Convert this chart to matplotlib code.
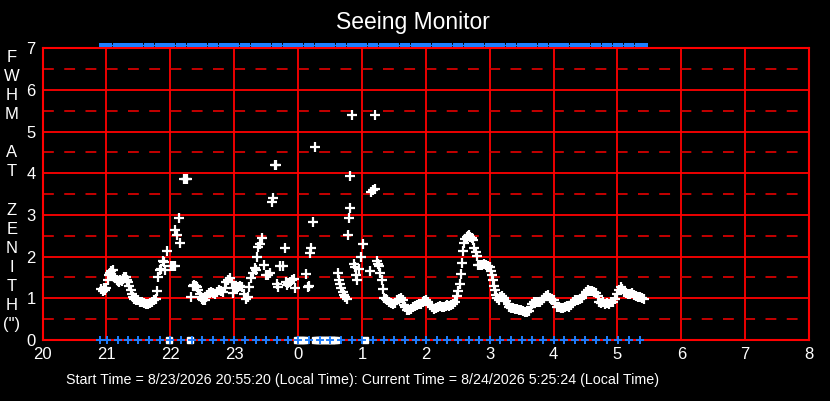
import matplotlib
matplotlib.use("Agg")
import matplotlib.pyplot as plt
import numpy as np

plt.rcParams['font.family'] = ['Liberation Sans', 'DejaVu Sans']
plt.rcParams['lines.scale_dashes'] = False

# ---- data (hours; after midnight expressed as 24+) ----
seeing_times = [
    20.92, 20.94, 20.96, 20.98, 21.00, 21.02, 21.04, 21.06, 21.08, 21.10,
    21.12, 21.14, 21.16, 21.18, 21.20, 21.22, 21.24, 21.26, 21.28, 21.30,
    21.32, 21.34, 21.36, 21.38, 21.40, 21.42, 21.44, 21.47, 21.50, 21.53,
    21.56, 21.59, 21.62, 21.65, 21.68, 21.71, 21.74, 21.77, 21.79, 21.81,
    21.84, 21.86, 21.88, 21.90, 21.92, 21.95, 22.01, 22.04, 22.07, 22.08,
    22.10, 22.13, 22.16, 22.21, 22.24, 22.26, 22.33, 22.35, 22.37, 22.40,
    22.42, 22.44, 22.46, 22.48, 22.50, 22.52, 22.54, 22.56, 22.58, 22.61,
    22.64, 22.67, 22.70, 22.73, 22.76, 22.79, 22.82, 22.85, 22.88, 22.91,
    22.94, 22.96, 22.98, 23.00, 23.03, 23.06, 23.09, 23.12, 23.15, 23.19,
    23.21, 23.24, 23.27, 23.30, 23.32, 23.34, 23.36, 23.38, 23.40, 23.43,
    23.46, 23.50, 23.53, 23.56, 23.59, 23.61, 23.64, 23.66, 23.67, 23.69,
    23.72, 23.77, 23.79, 23.81, 23.83, 23.85, 23.88, 23.91, 23.94, 23.96,
    24.13, 24.16, 24.18, 24.19, 24.21, 24.23, 24.27, 24.62, 24.64, 24.66,
    24.68, 24.70, 24.72, 24.74, 24.76, 24.78, 24.80, 24.81, 24.82, 24.85,
    24.87, 24.89, 24.91, 24.93, 24.96, 24.99, 25.02, 25.12, 25.15, 25.17,
    25.20, 25.21, 25.23, 25.25, 25.27, 25.29, 25.31, 25.33, 25.35, 25.37,
    25.40, 25.43, 25.46, 25.49, 25.52, 25.55, 25.58, 25.61, 25.64, 25.66,
    25.68, 25.71, 25.74, 25.77, 25.80, 25.83, 25.86, 25.89, 25.92, 25.95,
    25.98, 26.01, 26.04, 26.07, 26.10, 26.13, 26.16, 26.19, 26.22, 26.25,
    26.28, 26.31, 26.34, 26.37, 26.40, 26.43, 26.46, 26.49, 26.51, 26.53,
    26.55, 26.57, 26.58, 26.60, 26.62, 26.64, 26.66, 26.68, 26.70, 26.72,
    26.74, 26.76, 26.78, 26.80, 26.82, 26.85, 26.88, 26.91, 26.94, 26.97,
    27.00, 27.02, 27.04, 27.06, 27.07, 27.08, 27.10, 27.12, 27.14, 27.17,
    27.20, 27.23, 27.26, 27.28, 27.31, 27.34, 27.37, 27.40, 27.43, 27.46,
    27.49, 27.52, 27.55, 27.58, 27.61, 27.64, 27.67, 27.70, 27.73, 27.76,
    27.79, 27.82, 27.85, 27.88, 27.91, 27.94, 27.97, 28.00, 28.03, 28.06,
    28.09, 28.12, 28.15, 28.18, 28.21, 28.24, 28.27, 28.30, 28.33, 28.36,
    28.39, 28.42, 28.45, 28.48, 28.51, 28.54, 28.57, 28.60, 28.63, 28.66,
    28.69, 28.72, 28.75, 28.78, 28.81, 28.84, 28.87, 28.90, 28.93, 28.96,
    28.99, 29.02, 29.05, 29.08, 29.11, 29.14, 29.17, 29.20, 29.23, 29.26,
    29.29, 29.32, 29.35, 29.38, 29.41,
]
seeing_values = [
    1.22, 1.18, 1.25, 1.20, 1.25, 1.45, 1.55, 1.60, 1.65, 1.68,
    1.50, 1.48, 1.45, 1.42, 1.40, 1.45, 1.42, 1.47, 1.52, 1.50,
    1.45, 1.38, 1.30, 1.20, 1.10, 1.02, 0.98, 0.96, 0.95, 0.92,
    0.90, 0.88, 0.86, 0.86, 0.88, 0.90, 0.95, 0.98, 1.17, 1.50,
    1.69, 1.70, 1.90, 1.88, 1.68, 2.13, 1.78, 1.78, 1.77, 2.64,
    2.52, 2.93, 2.32, 3.86, 3.86, 3.86, 1.02, 1.30, 1.32, 1.30,
    1.28, 1.20, 1.10, 1.02, 0.98, 0.95, 0.97, 1.02, 1.08, 1.12,
    1.15, 1.12, 1.10, 1.15, 1.20, 1.18, 1.16, 1.25, 1.38, 1.45,
    1.48, 1.40, 1.12, 1.25, 1.28, 1.27, 1.30, 1.26, 1.10, 0.99,
    1.02, 1.28, 1.48, 1.60, 1.72, 1.68, 1.98, 2.22, 2.30, 2.44,
    1.80, 1.55, 1.57, 1.60, 3.32, 3.40, 4.19, 4.20, 1.35, 1.26,
    1.78, 1.78, 2.20, 1.38, 1.33, 1.36, 1.40, 1.45, 1.46, 1.25,
    1.58, 1.27, 1.30, 2.08, 2.20, 2.82, 4.62, 1.60, 1.45, 1.35,
    1.25, 1.15, 1.08, 1.02, 0.98, 2.52, 2.92, 3.16, 3.93, 5.40,
    1.82, 1.75, 1.55, 1.45, 1.70, 1.99, 2.30, 1.65, 3.55, 3.60,
    3.62, 5.41, 1.90, 1.82, 1.78, 1.60, 1.44, 1.22, 1.00, 0.98,
    0.95, 0.92, 0.88, 0.86, 0.88, 0.95, 0.98, 1.00, 0.97, 0.85,
    0.78, 0.73, 0.72, 0.75, 0.78, 0.82, 0.84, 0.86, 0.87, 0.90,
    0.93, 0.95, 0.90, 0.83, 0.78, 0.75, 0.77, 0.80, 0.82, 0.80,
    0.80, 0.82, 0.83, 0.82, 0.84, 0.86, 0.92, 1.05, 1.18, 1.34,
    1.58, 1.85, 2.14, 2.32, 2.42, 2.48, 2.50, 2.52, 2.48, 2.44,
    2.40, 2.20, 2.10, 2.02, 1.80, 1.79, 1.80, 1.82, 1.80, 1.78,
    1.76, 1.65, 1.55, 1.45, 1.30, 1.20, 1.08, 1.00, 0.97, 1.02,
    1.06, 1.00, 0.94, 0.86, 0.80, 0.77, 0.76, 0.75, 0.74, 0.72,
    0.72, 0.70, 0.67, 0.66, 0.70, 0.78, 0.86, 0.90, 0.92, 0.90,
    0.92, 0.95, 1.00, 1.05, 1.08, 1.00, 0.96, 0.95, 0.88, 0.80,
    0.78, 0.76, 0.77, 0.80, 0.82, 0.80, 0.85, 0.90, 0.95, 0.96,
    0.97, 0.98, 1.00, 1.08, 1.16, 1.20, 1.18, 1.17, 1.15, 1.12,
    1.05, 0.92, 0.88, 0.90, 0.86, 0.88, 0.87, 0.90, 0.90, 0.98,
    1.10, 1.20, 1.26, 1.22, 1.16, 1.12, 1.10, 1.10, 1.12, 1.08,
    1.05, 1.03, 1.02, 1.00, 0.98,
]
# failed measurements (FWHM = 0)
zero_times = [21.98, 22.31, 23.99, 24.02, 24.05, 24.08, 24.11,
              24.27, 24.30, 24.33, 24.36, 24.39, 24.42, 24.45, 24.48,
              24.51, 24.54, 24.57, 24.59, 25.05]
# status flags every ~10 minutes
flag_times = [20.90, 21.01, 21.18, 21.34, 21.50, 21.67, 21.84, 22.00, 22.17,
              22.34, 22.50, 22.67, 22.84, 23.00, 23.17, 23.34, 23.50, 23.67,
              23.84, 24.00, 24.17, 24.34, 24.50, 24.67, 24.84, 25.00, 25.17,
              25.34, 25.50, 25.67, 25.84, 26.00, 26.17, 26.34, 26.50, 26.67,
              26.84, 27.00, 27.17, 27.34, 27.50, 27.67, 27.84, 28.00, 28.17,
              28.34, 28.50, 28.67, 28.84, 29.01, 29.18, 29.36]
top_flag_times = [20.97] + flag_times[1:] + [29.40]

x_ticks = [20, 21, 22, 23, 24, 25, 26, 27, 28, 29, 30, 31, 32]
x_tick_labels = ['20', '21', '22', '23', '0', '1', '2', '3', '4', '5', '6', '7', '8']
y_ticks = [0, 1, 2, 3, 4, 5, 6, 7]
y_label_letters = ['F', 'W', 'H', 'M', '', 'A', 'T', '', 'Z', 'E', 'N', 'I', 'T', 'H', '(")']
title_text = 'Seeing Monitor'
footer_text = ('Start Time = 8/23/2026 20:55:20 (Local Time): '
               'Current Time = 8/24/2026 5:25:24 (Local Time)')

# ---- figure ----
W, H = 830, 401
fig = plt.figure(figsize=(W / 100, H / 100), dpi=100, facecolor='black')
ax = fig.add_axes([42.5 / W, 1 - 340 / H, (809 - 42.5) / W, (340 - 48.3) / H])
ax.set_facecolor('black')
ax.set_xlim(20, 32)
ax.set_ylim(0, 7)

# grid
for xv in x_ticks:
    ax.axvline(xv, color='#ff0000', lw=1.3, zorder=1)
for yv in y_ticks:
    ax.axhline(yv, color='#ff0000', lw=1.3, zorder=1)
for yv in [0.5, 1.5, 2.5, 3.5, 4.5, 5.5, 6.5]:
    ax.axhline(yv, color='#d40000', lw=1.3, zorder=1,
               linestyle=(0, (7.8, 7.5)))

for sp in ax.spines.values():
    sp.set_color('#ff0000')
    sp.set_linewidth(1.5)

ax.set_xticks(x_ticks)
ax.set_xticklabels(x_tick_labels)
ax.set_yticks(y_ticks)
ax.tick_params(axis='both', length=0, colors='white', labelsize=12)
ax.tick_params(axis='x', pad=5)
ax.tick_params(axis='y', pad=5)

# data
ax.plot(seeing_times, seeing_values, linestyle='none', marker='+',
        color='white', markersize=6.5, markeredgewidth=1.6, zorder=4, clip_on=False)
ax.plot(zero_times, [0] * len(zero_times), linestyle='none', marker='s',
        color='white', markersize=4.5, zorder=4, clip_on=False)
ax.plot(flag_times, [0] * len(flag_times), linestyle='none', marker='+',
        color='#1e7fff', markersize=6, markeredgewidth=1.4, zorder=5, clip_on=False)

# top flag band
rect = [(-1, -0.45), (1, -0.45), (1, 0.45), (-1, 0.45), (-1, -0.45)]
ax.plot(top_flag_times, [7.07] * len(top_flag_times), linestyle='-', lw=1,
        color='#1e7fff', marker=rect, markersize=7.2, markeredgewidth=0,
        zorder=5, clip_on=False)

# texts
fig.text(413 / W, 1 - 22 / H, title_text, color='white', fontsize=16.5,
         ha='center', va='center')
for i, ch in enumerate(y_label_letters):
    if ch:
        fig.text(12 / W, 1 - (57 + 19.14 * i) / H, ch, color='white',
                 fontsize=12, ha='center', va='center')
fig.text(363 / W, 1 - 380 / H, footer_text, color='white', fontsize=10.3,
         ha='center', va='center')

fig.savefig('out.png', dpi=100, facecolor='black')
